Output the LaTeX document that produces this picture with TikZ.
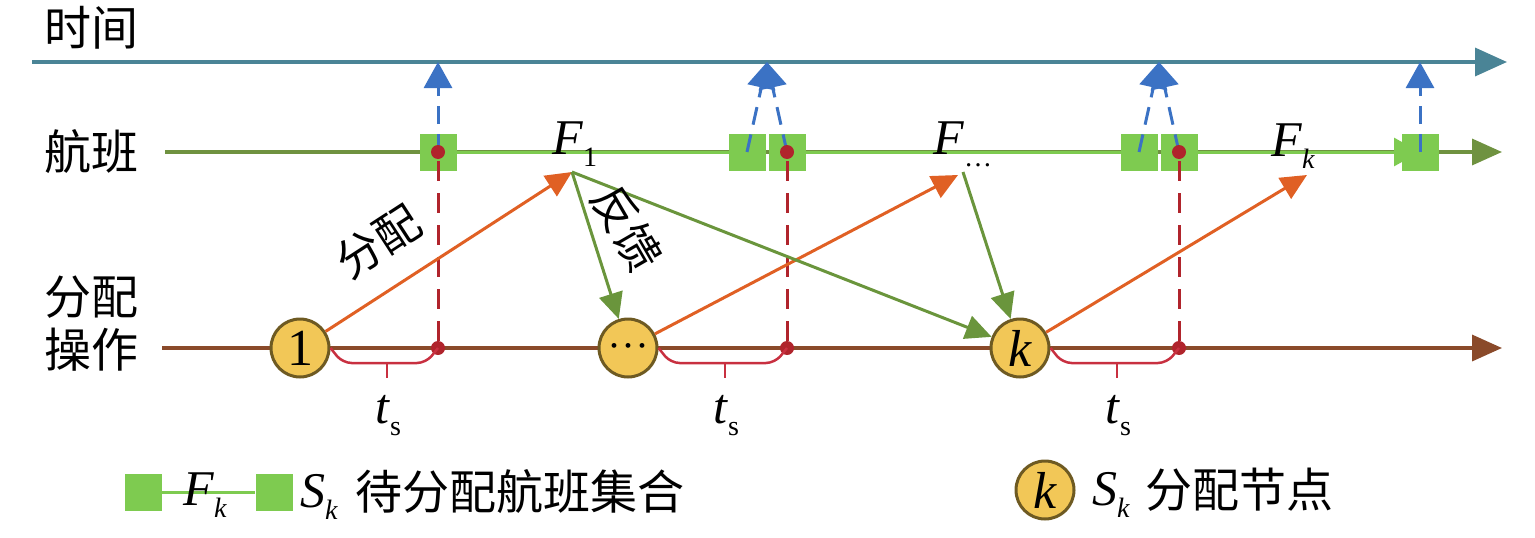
\documentclass[tikz,border=0pt]{standalone}
\usepackage{fontspec}
\setmainfont{Liberation Serif}
\newfontfamily\cjk{Noto Sans CJK SC}
\usetikzlibrary{arrows.meta,calc}
\definecolor{timec}{HTML}{4A8496}
\definecolor{olivec}{HTML}{6F9240}
\definecolor{lgreen}{HTML}{7ECB50}
\definecolor{brownc}{HTML}{8A4A2A}
\definecolor{dred}{HTML}{B0242C}
\definecolor{bracec}{HTML}{C83040}
\definecolor{bluec}{HTML}{3B72C4}
\definecolor{orangec}{HTML}{E06024}
\definecolor{greenc}{HTML}{6A953C}
\definecolor{nodefill}{HTML}{F2C757}
\definecolor{nodeborder}{HTML}{6E5A22}
\newcommand\lowsub[1]{\raisebox{-0.24em}{\fontsize{28}{28}\selectfont #1}}
\begin{document}
\begin{tikzpicture}[x=1pt,y=-1pt,
  axisline/.style={line width=3.5pt,-{Triangle[length=32pt,width=28pt]}},
  cjklab/.style={font=\cjk\fontsize{47}{53}\selectfont,inner sep=0pt},
  sq/.style={fill=lgreen,minimum width=37pt,minimum height=37pt,inner sep=0pt},
  rdot/.style={circle,fill=dred,minimum size=14pt,inner sep=0pt},
  opnode/.style={circle,fill=nodefill,draw=nodeborder,line width=3pt,minimum size=58pt,inner sep=0pt,font=\fontsize{52}{52}\selectfont},
  bdash/.style={draw=bluec,line width=3pt,dash pattern=on 18pt off 10pt,-{Triangle[length=26pt,width=28pt]}},
  rdash/.style={draw=dred,line width=3pt,dash pattern=on 20pt off 12pt},
  bracep/.style={draw=bracec,line width=2.5pt,rounded corners=9pt},
  oarr/.style={draw=orangec,line width=3pt,-{Triangle[length=26pt,width=24pt]}},
  garr/.style={draw=greenc,line width=3pt,-{Triangle[length=26pt,width=24pt]}},
  lgline/.style={draw=lgreen,line width=3pt},
  mlab/.style={font=\fontsize{50}{50}\selectfont,inner sep=0pt},
  rotlab/.style={font=\cjk\fontsize{45}{45}\selectfont,inner sep=0pt}
]
\useasboundingbox (0,0) rectangle (1535,538);
% axes
\coordinate (tA) at (32,62); \coordinate (tB) at (1507,62);
\coordinate (fA) at (165,152); \coordinate (fB) at (1502,152);
\coordinate (aA) at (162,348); \coordinate (aB) at (1502,348);
\draw[axisline,draw=timec] (tA) -- (tB);
\draw[axisline,draw=olivec,-{Triangle[length=30pt,width=26pt]}] (fA) -- (fB);
\draw[axisline,draw=brownc,-{Triangle[length=30pt,width=26pt]}] (aA) -- (aB);
% row labels
\node[cjklab] (lt) at (91,28) {时间};
\node[cjklab] (lf) at (92,152) {航班};
\node[cjklab,align=left] (lo) at (92,324) {分配\\操作};
% squares
\coordinate (sq1) at (438,152);
\coordinate (sq2) at (747,152);
\coordinate (sq3) at (787,152);
\coordinate (sq4) at (1139,152);
\coordinate (sq5) at (1179,152);
\coordinate (sq6) at (1420,152);
\draw[lgline] (sq1) -- (sq2);
\draw[lgline] (sq3) -- (sq4);
\draw[lgline,-{Triangle[length=26pt,width=28pt]}] (sq5) -- (sq6);
\node[sq] (s1) at (sq1) {};
\node[sq] (s2) at (sq2) {};
\node[sq] (s3) at (sq3) {};
\node[sq] (s4) at (sq4) {};
\node[sq] (s5) at (sq5) {};
\node[sq] (s6) at (sq6) {};
% blue dashed arrows
\coordinate (b1) at (438,62);
\coordinate (b23) at (767,62);
\coordinate (b45) at (1159,62);
\coordinate (b6) at (1420,62);
\draw[bdash] (s1.center) -- (b1);
\draw[bdash] (s2.center) -- (b23);
\draw[bdash] (s3.center) -- (b23);
\draw[bdash] (s4.center) -- (b45);
\draw[bdash] (s5.center) -- (b45);
\draw[bdash] (s6.center) -- (b6);
% red dots and dashed
\node[rdot] (fd1) at (438,152) {};
\node[rdot] (fd2) at (787,152) {};
\node[rdot] (fd3) at (1179,152) {};
\node[rdot] (ad1) at (438,348) {};
\node[rdot] (ad2) at (787,348) {};
\node[rdot] (ad3) at (1179,348) {};
\draw[rdash] (ad1) -- (fd1);
\draw[rdash] (ad2) -- (fd2);
\draw[rdash] (ad3) -- (fd3);
% operation nodes
\node[opnode] (n1) at (300,348) {1};
\node[opnode] (n2) at (628,348) {\fontsize{20}{20}\selectfont\textbullet\hspace{7pt}\textbullet\hspace{7pt}\textbullet};
\node[opnode] (n3) at (1020,348) {\textit{k}};
% braces
\draw[bracep] (n1.east) -- ++(12,15) -- ($(ad1)+(-12,15)$) -- (ad1.center);
\draw[bracep] (n2.east) -- ++(12,15) -- ($(ad2)+(-12,15)$) -- (ad2.center);
\draw[bracep] (n3.east) -- ++(12,15) -- ($(ad3)+(-12,15)$) -- (ad3.center);
\coordinate (tk1) at (387,363);
\coordinate (tk2) at (725,363);
\coordinate (tk3) at (1117,363);
\draw[draw=bracec,line width=2.5pt] (tk1) -- ++(0,15);
\draw[draw=bracec,line width=2.5pt] (tk2) -- ++(0,15);
\draw[draw=bracec,line width=2.5pt] (tk3) -- ++(0,15);
\node[mlab,anchor=base west] (ts1) at (375,423) {\textit{t}\lowsub{s}};
\node[mlab,anchor=base west] (ts2) at (713,423) {\textit{t}\lowsub{s}};
\node[mlab,anchor=base west] (ts3) at (1105,423) {\textit{t}\lowsub{s}};
% flight labels
\node[mlab,anchor=base west] (F1) at (552,154) {\textit{F}\lowsub{1}};
\node[mlab,anchor=base west] (F2) at (933,154) {\textit{F}\lowsub{\dots}};
\node[mlab,anchor=base west] (F3) at (1271,156) {\textit{F}\lowsub{\textit{k}}};
% orange arrows
\coordinate (ot1) at (572,172);
\coordinate (ot2) at (958,175);
\coordinate (ot3) at (1307,175);
\draw[oarr] (n1) -- (ot1);
\draw[oarr] (n2) -- (ot2);
\draw[oarr] (n3) -- (ot3);
% green arrows
\coordinate (gs1) at (572,172);
\coordinate (gs2) at (963,172);
\draw[garr] (gs1) -- (n2);
\draw[garr] (gs1) -- (n3);
\draw[garr] (gs2) -- (n3);
% arrow labels
\node[rotlab,rotate=33] (lalloc) at (378,242) {分配};
\node[rotlab,rotate=-60] (lfb) at (627,228) {反馈};
% legend
\node[sq] (l1) at (143,492) {};
\node[sq] (l2) at (274,492) {};
\draw[lgline] (l1.east) -- (l2.west);
\node[mlab,anchor=base west] (lF) at (183,505) {\textit{F}\lowsub{\textit{k}}};
\node[mlab,anchor=base west] (lS1) at (300,507) {\textit{S}\lowsub{\textit{k}}};
\node[cjklab,anchor=west] (lt1) at (355,492) {待分配航班集合};
\node[opnode] (lk) at (1045,490) {\textit{k}};
\node[mlab,anchor=base west] (lS2) at (1092,505) {\textit{S}\lowsub{\textit{k}}};
\node[cjklab,anchor=west] (lt2) at (1145,490) {分配节点};
\end{tikzpicture}
\end{document}
